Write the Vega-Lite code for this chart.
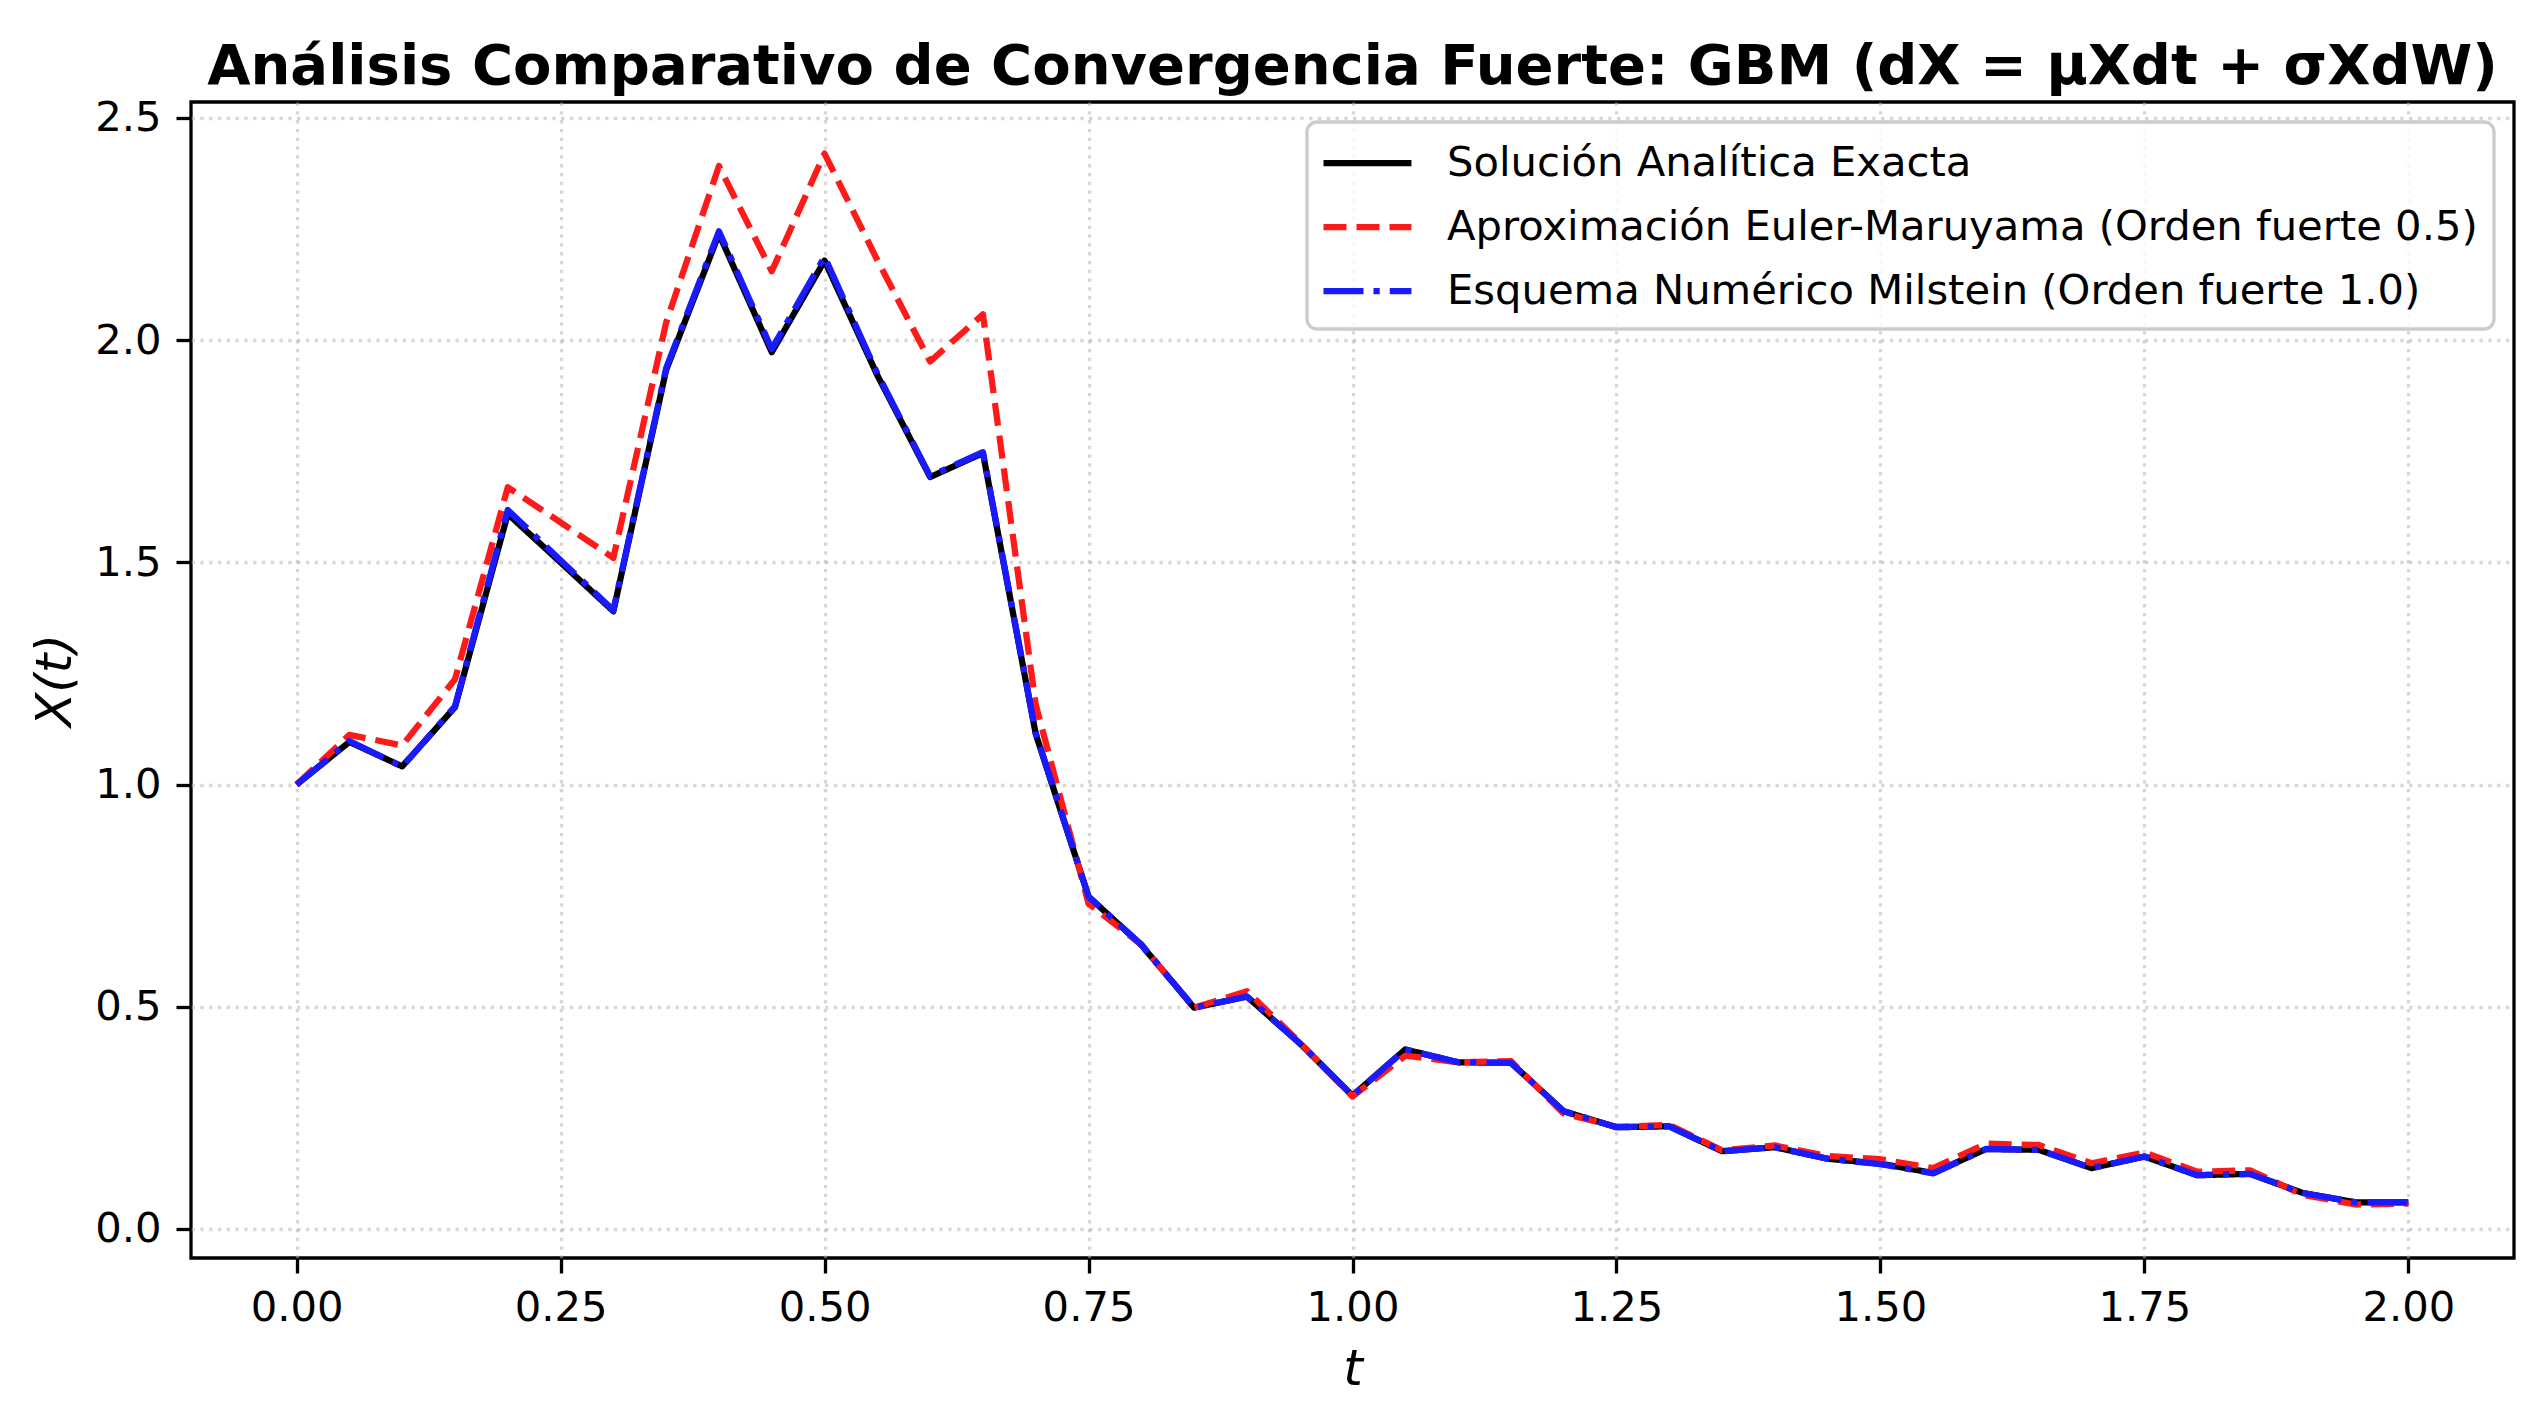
{
  "$schema": "https://vega.github.io/schema/vega-lite/v6.json",
  "width": 2323,
  "height": 1156,
  "autosize": {"type": "none"},
  "padding": {"left": 191, "top": 102, "right": 31, "bottom": 166},
  "background": "white",
  "title": {
    "text": "Análisis Comparativo de Convergencia Fuerte: GBM (dX = μXdt + σXdW)",
    "font": "DejaVu Sans",
    "fontSize": 56,
    "fontWeight": "bold",
    "color": "black",
    "anchor": "middle",
    "frame": "group",
    "baseline": "alphabetic",
    "offset": 24,
    "dy": 66
  },
  "config": {
    "view": {"stroke": "black", "strokeWidth": 3.3},
    "axis": {
      "labelFont": "DejaVu Sans",
      "labelFontSize": 41.7,
      "labelColor": "black",
      "titleFont": "DejaVu Sans",
      "titleFontSize": 50,
      "titleFontWeight": "normal",
      "titleFontStyle": "italic",
      "titleColor": "black",
      "tickColor": "black",
      "tickWidth": 3.3,
      "tickSize": 15,
      "domain": false,
      "gridColor": "#b0b0b0",
      "gridOpacity": 0.5,
      "gridWidth": 3.3,
      "gridDash": [3.3, 5.5],
      "labelOverlap": false
    },
    "legend": {
      "orient": "top-right",
      "offset": 20,
      "labelFont": "DejaVu Sans",
      "labelFontSize": 41.7,
      "labelColor": "black",
      "labelLimit": 2000,
      "padding": 16,
      "strokeColor": "#cccccc",
      "strokeWidth": 3.3,
      "cornerRadius": 10,
      "fillColor": "rgba(255,255,255,0.8)",
      "symbolType": "M-1.14,0H2.95",
      "symbolSize": 1849,
      "symbolStrokeWidth": 6.25,
      "labelOffset": 74,
      "rowPadding": 17
    }
  },
  "data": {
    "values": [
      {"t": 0.00, "exacta": 1.000, "euler": 1.000, "milstein": 1.000},
      {"t": 0.05, "exacta": 1.096, "euler": 1.112, "milstein": 1.098},
      {"t": 0.10, "exacta": 1.041, "euler": 1.088, "milstein": 1.040},
      {"t": 0.15, "exacta": 1.174, "euler": 1.237, "milstein": 1.176},
      {"t": 0.20, "exacta": 1.609, "euler": 1.669, "milstein": 1.618},
      {"t": 0.25, "exacta": 1.500, "euler": 1.590, "milstein": 1.505},
      {"t": 0.30, "exacta": 1.390, "euler": 1.510, "milstein": 1.392},
      {"t": 0.35, "exacta": 1.933, "euler": 2.040, "milstein": 1.937},
      {"t": 0.40, "exacta": 2.239, "euler": 2.392, "milstein": 2.245},
      {"t": 0.45, "exacta": 1.973, "euler": 2.155, "milstein": 1.980},
      {"t": 0.50, "exacta": 2.179, "euler": 2.420, "milstein": 2.188},
      {"t": 0.55, "exacta": 1.921, "euler": 2.180, "milstein": 1.925},
      {"t": 0.60, "exacta": 1.692, "euler": 1.952, "milstein": 1.694},
      {"t": 0.65, "exacta": 1.746, "euler": 2.058, "milstein": 1.748},
      {"t": 0.70, "exacta": 1.114, "euler": 1.180, "milstein": 1.116},
      {"t": 0.75, "exacta": 0.748, "euler": 0.732, "milstein": 0.748},
      {"t": 0.80, "exacta": 0.639, "euler": 0.640, "milstein": 0.640},
      {"t": 0.85, "exacta": 0.498, "euler": 0.498, "milstein": 0.498},
      {"t": 0.90, "exacta": 0.523, "euler": 0.535, "milstein": 0.523},
      {"t": 0.95, "exacta": 0.418, "euler": 0.420, "milstein": 0.418},
      {"t": 1.00, "exacta": 0.300, "euler": 0.298, "milstein": 0.300},
      {"t": 1.05, "exacta": 0.404, "euler": 0.390, "milstein": 0.404},
      {"t": 1.10, "exacta": 0.375, "euler": 0.375, "milstein": 0.375},
      {"t": 1.15, "exacta": 0.374, "euler": 0.378, "milstein": 0.374},
      {"t": 1.20, "exacta": 0.265, "euler": 0.260, "milstein": 0.265},
      {"t": 1.25, "exacta": 0.229, "euler": 0.230, "milstein": 0.229},
      {"t": 1.30, "exacta": 0.231, "euler": 0.234, "milstein": 0.231},
      {"t": 1.35, "exacta": 0.175, "euler": 0.177, "milstein": 0.175},
      {"t": 1.40, "exacta": 0.184, "euler": 0.188, "milstein": 0.184},
      {"t": 1.45, "exacta": 0.158, "euler": 0.164, "milstein": 0.158},
      {"t": 1.50, "exacta": 0.147, "euler": 0.157, "milstein": 0.146},
      {"t": 1.55, "exacta": 0.126, "euler": 0.137, "milstein": 0.125},
      {"t": 1.60, "exacta": 0.180, "euler": 0.192, "milstein": 0.180},
      {"t": 1.65, "exacta": 0.178, "euler": 0.189, "milstein": 0.178},
      {"t": 1.70, "exacta": 0.137, "euler": 0.148, "milstein": 0.137},
      {"t": 1.75, "exacta": 0.163, "euler": 0.172, "milstein": 0.163},
      {"t": 1.80, "exacta": 0.121, "euler": 0.129, "milstein": 0.121},
      {"t": 1.85, "exacta": 0.124, "euler": 0.132, "milstein": 0.124},
      {"t": 1.90, "exacta": 0.081, "euler": 0.077, "milstein": 0.081},
      {"t": 1.95, "exacta": 0.060, "euler": 0.055, "milstein": 0.060},
      {"t": 2.00, "exacta": 0.060, "euler": 0.057, "milstein": 0.060}
    ]
  },
  "transform": [{"fold": ["exacta", "euler", "milstein"], "as": ["serie", "x"]}],
  "mark": {"type": "line", "strokeWidth": 6.25, "strokeJoin": "round"},
  "encoding": {
    "x": {
      "field": "t",
      "type": "quantitative",
      "scale": {"domain": [-0.1, 2.1], "nice": false, "zero": false},
      "axis": {
        "title": "t",
        "values": [0, 0.25, 0.5, 0.75, 1, 1.25, 1.5, 1.75, 2],
        "format": ".2f",
        "labelPadding": 14,
        "titlePadding": 16,
        "labelFlush": false
      }
    },
    "y": {
      "field": "x",
      "type": "quantitative",
      "scale": {"domain": [-0.0653, 2.536], "nice": false, "zero": false},
      "axis": {
        "title": "X(t)",
        "values": [0, 0.5, 1, 1.5, 2, 2.5],
        "format": ".1f",
        "labelPadding": 15,
        "titlePadding": 14
      }
    },
    "color": {
      "field": "serie",
      "type": "nominal",
      "scale": {
        "domain": ["exacta", "euler", "milstein"],
        "range": ["#000000", "#ff1a1a", "#1a1aff"]
      },
      "legend": {
        "title": null,
        "labelExpr": "datum.value == 'exacta' ? 'Solución Analítica Exacta' : datum.value == 'euler' ? 'Aproximación Euler-Maruyama (Orden fuerte 0.5)' : 'Esquema Numérico Milstein (Orden fuerte 1.0)'"
      }
    },
    "strokeDash": {
      "field": "serie",
      "type": "nominal",
      "scale": {
        "domain": ["exacta", "euler", "milstein"],
        "range": [[1, 0], [23, 10], [40, 10, 6.25, 10]]
      },
      "legend": {
        "title": null,
        "labelExpr": "datum.value == 'exacta' ? 'Solución Analítica Exacta' : datum.value == 'euler' ? 'Aproximación Euler-Maruyama (Orden fuerte 0.5)' : 'Esquema Numérico Milstein (Orden fuerte 1.0)'"
      }
    }
  }
}
